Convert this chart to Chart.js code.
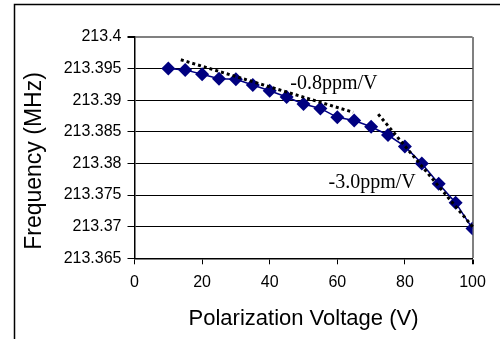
<!DOCTYPE html>
<html lang="en">
<head>
<meta charset="UTF-8">
<title>Frequency vs Polarization Voltage</title>
<script src="https://cdn.jsdelivr.net/npm/chart.js"></script>
<style>
  html, body { margin: 0; padding: 0; background: #ffffff; }
  #chart { display: block; }
</style>
</head>
<body>
<canvas id="chart" width="500" height="339"></canvas>
<script>
// measured points
var voltage = [10, 15, 20, 25, 30, 35, 40, 45, 50, 55, 60, 65, 70, 75, 80, 85, 90, 95, 100];
var frequency = [213.3950, 213.3948, 213.3941, 213.3934, 213.3933, 213.3924, 213.3915, 213.3905,
                 213.3894, 213.3887, 213.3873, 213.3868, 213.3858, 213.3845, 213.3827, 213.3800,
                 213.3768, 213.3738, 213.3697];

// linear fits (dotted)
var fitLowX = [13.7, 64.7];
var fitLowY = [213.3964, 213.3881];
var fitHighX = [72.1, 100.5];
var fitHighY = [213.3878, 213.3697];

// axis ticks
var xTicks = [0, 20, 40, 60, 80, 100];
var yTicks = [213.365, 213.37, 213.375, 213.38, 213.385, 213.39, 213.395, 213.4];

// slope labels
var noteText = ['-0.8ppm/V', '-3.0ppm/V'];
var noteX = [59.0, 70.3];
var noteY = [213.3918, 213.3761];

function pairs(xs, ys) {
  return xs.map(function (x, i) { return { x: x, y: ys[i] }; });
}

var sansFont = 'Arial, "Liberation Sans", sans-serif';

var framePlugin = {
  id: 'frame',
  beforeDraw: function (chart) {
    var ctx = chart.ctx;
    ctx.save();
    ctx.fillStyle = '#ffffff';
    ctx.fillRect(0, 0, chart.width, chart.height);
    ctx.strokeStyle = '#000000';
    ctx.lineWidth = 1.5;
    ctx.beginPath();
    ctx.moveTo(14.5, chart.height + 2);
    ctx.lineTo(14.5, 4.5);
    ctx.lineTo(chart.width + 2, 4.5);
    ctx.stroke();
    ctx.restore();
  },
  afterDraw: function (chart) {
    // y axis title, drawn a little below the centre like the original
    var ctx = chart.ctx;
    ctx.save();
    ctx.translate(34.5, 161);
    ctx.rotate(-Math.PI / 2);
    ctx.font = '23px ' + sansFont;
    ctx.fillStyle = '#000000';
    ctx.textAlign = 'center';
    ctx.textBaseline = 'middle';
    ctx.fillText('Frequency (MHz)', 0, 0);
    ctx.restore();
  }
};

var notesPlugin = {
  id: 'notes',
  afterDatasetsDraw: function (chart) {
    var ctx = chart.ctx;
    var xs = chart.scales.x, ys = chart.scales.y;
    ctx.save();
    ctx.font = '20px "Times New Roman", "Liberation Serif", serif';
    ctx.fillStyle = '#000000';
    ctx.textAlign = 'center';
    ctx.textBaseline = 'alphabetic';
    noteText.forEach(function (t, i) {
      ctx.fillText(t, xs.getPixelForValue(noteX[i]), ys.getPixelForValue(noteY[i]));
    });
    ctx.restore();
  }
};

new Chart(document.getElementById('chart'), {
  type: 'scatter',
  data: {
    datasets: [
      {
        label: 'Fit low',
        data: pairs(fitLowX, fitLowY),
        showLine: true,
        borderColor: '#000000',
        borderWidth: 3,
        borderDash: [3, 3],
        pointRadius: 0,
        clip: false,
        order: 0
      },
      {
        label: 'Fit high',
        data: pairs(fitHighX, fitHighY),
        showLine: true,
        borderColor: '#000000',
        borderWidth: 3,
        borderDash: [3, 3],
        pointRadius: 0,
        clip: false,
        order: 1
      },
      {
        label: 'Frequency',
        data: pairs(voltage, frequency),
        showLine: true,
        borderColor: '#000080',
        backgroundColor: '#000080',
        borderWidth: 1.5,
        pointStyle: 'rectRot',
        pointRadius: 7,
        pointBorderWidth: 0,
        order: 2
      }
    ]
  },
  options: {
    responsive: false,
    animation: false,
    layout: { padding: { top: 37, right: 27.5, left: 0, bottom: 0 } },
    plugins: { legend: { display: false }, tooltip: { enabled: false } },
    scales: {
      x: {
        type: 'linear',
        min: 0,
        max: 100,
        afterBuildTicks: function (s) { s.ticks = xTicks.map(function (v) { return { value: v }; }); },
        afterFit: function (s) { s.height = 80.7; },
        ticks: { color: '#000000', font: { family: sansFont, size: 16 }, padding: 9 },
        grid: {
          drawOnChartArea: true,
          tickLength: 6,
          tickColor: '#000000',
          color: function (c) { return c.tick && c.tick.value === 100 ? '#808080' : 'rgba(0,0,0,0)'; },
          lineWidth: function (c) { return c.tick && c.tick.value === 100 ? 2 : 1; }
        },
        border: { color: '#000000', width: 1.5 },
        title: {
          display: true,
          text: 'Polarization Voltage (V)',
          color: '#000000',
          font: { family: sansFont, size: 22 },
          padding: { top: 0, bottom: 7 }
        }
      },
      y: {
        min: 213.365,
        max: 213.4,
        afterBuildTicks: function (s) { s.ticks = yTicks.map(function (v) { return { value: v }; }); },
        afterFit: function (s) { s.width = 134.5; },
        ticks: {
          color: '#000000',
          font: { family: sansFont, size: 16 },
          padding: 6,
          callback: function (v) { return String(+v.toFixed(3)); }
        },
        grid: {
          tickLength: 7,
          tickColor: '#000000',
          color: function (c) { return c.tick && c.tick.value === 213.4 ? '#808080' : '#000000'; },
          lineWidth: function (c) { return c.tick && c.tick.value === 213.4 ? 2 : 1; }
        },
        border: { color: '#000000', width: 1.5 }
      }
    }
  },
  plugins: [framePlugin, notesPlugin]
});
</script>
</body>
</html>
